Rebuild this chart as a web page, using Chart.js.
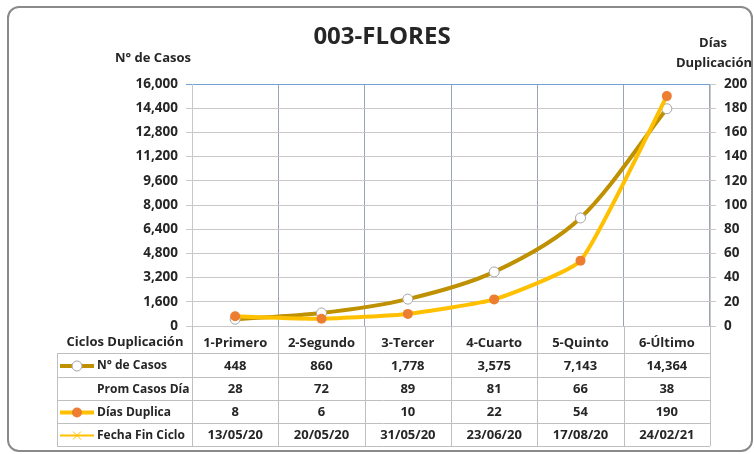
<!DOCTYPE html>
<html>
<head>
<meta charset="utf-8">
<script src="https://cdn.jsdelivr.net/npm/chart.js@4/dist/chart.umd.min.js"></script>
<style>
  html, body { margin: 0; padding: 0; background: #fff; }
  #wrap { width: 754px; height: 454px; position: relative; }
</style>
</head>
<body>
<div id="wrap"><canvas id="chart" width="754" height="454"></canvas></div>
<script>
const ciclos = ["1-Primero", "2-Segundo", "3-Tercer", "4-Cuarto", "5-Quinto", "6-Último"];
const casos = [448, 860, 1778, 3575, 7143, 14364];
const promCasos = [28, 72, 89, 81, 66, 38];
const diasDuplica = [8, 6, 10, 22, 54, 190];
const fechaFin = ["13/05/20", "20/05/20", "31/05/20", "23/06/20", "17/08/20", "24/02/21"];

const FONT = "'Open Sans', 'DejaVu Sans', sans-serif";
const TXT = "#262626";
const GOLD = "#BF9000";
const YELLOW = "#FFC000";
const ORANGE = "#ED7D31";
const LIGHT = "#C8C8C8";

// titulos, marco y tabla de datos
const tablePlugin = {
  id: "tabla",
  beforeDraw(chart) {
    const c = chart.ctx;
    c.save();
    c.fillStyle = "#fff";
    c.fillRect(0, 0, chart.width, chart.height);
    c.restore();
  },
  afterDraw(chart) {
    const c = chart.ctx;
    const x = chart.scales.x;
    const area = chart.chartArea;
    c.save();

    // marco redondeado
    c.strokeStyle = "#8a8a8a";
    c.lineWidth = 2;
    c.beginPath();
    c.roundRect(8, 7, 744, 444, 11);
    c.stroke();

    c.fillStyle = TXT;
    c.textAlign = "center";
    c.textBaseline = "middle";
    c.font = "bold 24px " + FONT;
    c.fillText("003-FLORES", 382, 37);
    c.font = "bold 13px " + FONT;
    c.fillText("N° de Casos", 153, 58);
    c.fillText("Días", 713, 43);
    c.fillText("Duplicación", 714, 63);

    // tabla
    const rows = [353, 377, 400, 423, 446];
    const left = 57;
    const right = area.right;
    c.strokeStyle = "#BFBFBF";
    c.lineWidth = 1;
    rows.forEach(y => {
      c.beginPath();
      c.moveTo(left, y + 0.5);
      c.lineTo(right, y + 0.5);
      c.stroke();
    });
    c.beginPath();
    c.moveTo(left + 0.5, rows[0]);
    c.lineTo(left + 0.5, rows[4]);
    c.stroke();
    for (let i = 0; i <= ciclos.length; i++) {
      const px = Math.round(x.getPixelForValue(i - 0.5)) + 0.5;
      c.beginPath();
      c.moveTo(px, area.bottom);
      c.lineTo(px, rows[4]);
      c.stroke();
    }

    c.fillStyle = TXT;
    c.font = "bold 13px " + FONT;
    c.textAlign = "center";
    c.fillText("Ciclos Duplicación", 125, 342);

    const lines = [
      casos.map(v => v.toLocaleString("en-US")),
      promCasos.map(String),
      diasDuplica.map(String),
      fechaFin
    ];
    const labels = ["N° de Casos", "Prom Casos Día", "Días Duplica", "Fecha Fin Ciclo"];
    for (let r = 0; r < 4; r++) {
      const cy = (rows[r] + rows[r + 1]) / 2 + 1;
      c.textAlign = "left";
      c.fillStyle = TXT;
      c.font = "bold 12px " + FONT;
      c.fillText(labels[r], 97, cy);
      c.textAlign = "center";
      c.font = "bold 13px " + FONT;
      lines[r].forEach((t, i) => c.fillText(t, x.getPixelForValue(i), cy));
    }

    // claves de leyenda
    const keyY = r => (rows[r] + rows[r + 1]) / 2 + 1;
    c.lineCap = "butt";
    c.strokeStyle = GOLD; c.lineWidth = 4;
    c.beginPath(); c.moveTo(60, keyY(0)); c.lineTo(94, keyY(0)); c.stroke();
    c.fillStyle = "#fff"; c.strokeStyle = "#A6A6A6"; c.lineWidth = 1;
    c.beginPath(); c.arc(77, keyY(0), 5, 0, Math.PI * 2); c.fill(); c.stroke();

    c.strokeStyle = YELLOW; c.lineWidth = 4;
    c.beginPath(); c.moveTo(60, keyY(2)); c.lineTo(94, keyY(2)); c.stroke();
    c.fillStyle = ORANGE;
    c.beginPath(); c.arc(77, keyY(2), 5, 0, Math.PI * 2); c.fill();

    c.strokeStyle = YELLOW; c.lineWidth = 2;
    c.beginPath(); c.moveTo(60, keyY(3)); c.lineTo(94, keyY(3)); c.stroke();
    c.lineWidth = 1;
    c.beginPath();
    c.moveTo(73, keyY(3) - 4); c.lineTo(81, keyY(3) + 4);
    c.moveTo(81, keyY(3) - 4); c.lineTo(73, keyY(3) + 4);
    c.stroke();

    c.restore();
  }
};

new Chart(document.getElementById("chart"), {
  type: "line",
  data: {
    labels: ciclos,
    datasets: [
      {
        label: "Días Duplica",
        data: diasDuplica,
        yAxisID: "y2",
        order: 0,
        borderColor: YELLOW,
        borderWidth: 4,
        tension: 0.15,
        pointRadius: 5,
        pointBackgroundColor: ORANGE,
        pointBorderColor: ORANGE,
        pointBorderWidth: 0
      },
      {
        label: "N° de Casos",
        data: casos,
        yAxisID: "y",
        order: 1,
        borderColor: GOLD,
        borderWidth: 4,
        tension: 0.3,
        pointRadius: 5,
        pointBackgroundColor: "#fff",
        pointBorderColor: "#A6A6A6",
        pointBorderWidth: 1
      }
    ]
  },
  options: {
    responsive: false,
    animation: false,
    layout: { padding: { top: 84, left: 0, right: 0, bottom: 98 } },
    plugins: {
      legend: { display: false },
      tooltip: { enabled: false }
    },
    scales: {
      x: {
        offset: true,
        grid: {
          offset: true,
          drawTicks: false,
          color: ctx => (ctx.index === 0 || ctx.index === ciclos.length) ? LIGHT : "#9BA4B5"
        },
        border: { display: false },
        ticks: { color: TXT, padding: 9, font: { family: FONT, size: 13, weight: "bold" } },
        afterFit: s => { s.height = 30; }
      },
      y: {
        position: "left",
        min: 0,
        max: 16000,
        ticks: {
          stepSize: 1600,
          color: TXT,
          padding: 8,
          font: { family: FONT, size: 13.5, weight: "bold" },
          callback: v => v.toLocaleString("en-US")
        },
        grid: {
          tickLength: 6,
          color: ctx => ctx.tick && ctx.tick.value === 16000 ? "#6FA1D6" : LIGHT
        },
        border: { color: LIGHT },
        afterFit: s => { s.width = 192; }
      },
      y2: {
        position: "right",
        min: 0,
        max: 200,
        ticks: {
          stepSize: 20,
          color: TXT,
          padding: 8,
          font: { family: FONT, size: 13.5, weight: "bold" }
        },
        grid: { drawOnChartArea: false, tickLength: 6, color: LIGHT },
        border: { color: LIGHT },
        afterFit: s => { s.width = 44; }
      }
    }
  },
  plugins: [tablePlugin]
});
</script>
</body>
</html>
